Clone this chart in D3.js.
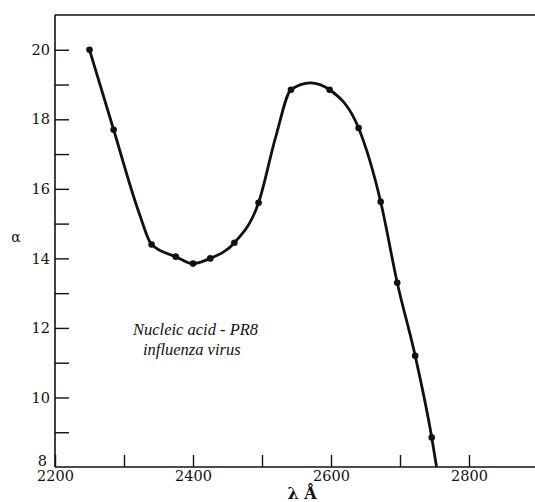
<!DOCTYPE html>
<html>
<head>
<meta charset="utf-8">
<script src="https://cdn.jsdelivr.net/npm/d3@7"></script>
<style>
  html, body { margin: 0; padding: 0; background: #fff; }
  svg { display: block; }
</style>
</head>
<body>
<svg id="chart" width="535" height="502"></svg>
<script>
// Measured points (wavelength in Å, alpha)
const waveX  = [2250, 2285, 2340, 2375, 2400, 2425, 2460, 2495, 2542, 2598, 2640, 2672, 2696, 2722, 2746];
const alphaY = [20.0, 17.7, 14.4, 14.05, 13.85, 14.0, 14.45, 15.6, 18.85, 18.85, 17.75, 15.63, 13.3, 11.2, 8.85];

// Smooth drawn curve through the points
const curveX = [2250, 2285, 2322, 2340, 2375, 2400, 2425, 2460, 2495, 2520, 2542, 2570, 2598, 2640, 2672, 2696, 2722, 2746, 2753];
const curveY = [20.0, 17.7, 15.3, 14.4, 14.05, 13.85, 14.0, 14.45, 15.6, 17.5, 18.85, 19.05, 18.85, 17.75, 15.63, 13.3, 11.2, 8.85, 8.0];

const xTicks = [2200, 2300, 2400, 2500, 2600, 2700, 2800];
const xLabels = [2200, 2400, 2600, 2800];
const yTicks = [9, 10, 11, 12, 13, 14, 15, 16, 17, 18, 19, 20];
const yLabels = [10, 12, 14, 16, 18, 20];

const noteLines = ["Nucleic acid - PR8", "influenza virus"];
const xTitle = "λ Å";
const yTitle = "α";

const svg = d3.select("#chart");
const mLeft = 55, mRight = 538, mTop = 15, mBottom = 467;

const x = d3.scaleLinear().domain([2200, 2900]).range([mLeft, mRight]);
const y = d3.scaleLinear().domain([8, 21]).range([mBottom, mTop]);

const font = "'DejaVu Serif', serif";
const noteFont = "'Liberation Serif', serif";

// Top frame line
svg.append("line").attr("x1", mLeft).attr("x2", 535).attr("y1", mTop).attr("y2", mTop)
  .attr("stroke", "#111").attr("stroke-width", 1.6);

// Y axis
const yAxis = d3.axisLeft(y).tickValues(yTicks).tickSize(-14).tickPadding(5)
  .tickFormat(d => yLabels.includes(d) ? d : "");
const gy = svg.append("g").attr("transform", `translate(${mLeft},0)`).call(yAxis);
gy.select(".domain").attr("stroke", "#111").attr("stroke-width", 1.6)
  .attr("d", `M0,${mTop}V${mBottom}`);
gy.selectAll(".tick line").attr("stroke", "#111").attr("stroke-width", 1.4);
gy.selectAll(".tick text").attr("font-family", font).attr("font-size", 14.5).attr("fill", "#111");

// X axis
const xAxis = d3.axisBottom(x).tickValues(xTicks).tickSize(-12).tickPadding(4)
  .tickFormat(d => xLabels.includes(d) ? d : "");
const gx = svg.append("g").attr("transform", `translate(0,${mBottom})`).call(xAxis);
gx.select(".domain").attr("stroke", "#111").attr("stroke-width", 1.6)
  .attr("d", `M${mLeft},0H535`);
gx.selectAll(".tick line").attr("stroke", "#111").attr("stroke-width", 1.4);
gx.selectAll(".tick text").attr("font-family", font).attr("font-size", 14.5).attr("fill", "#111");

// "8" label at the origin
svg.append("text").attr("x", x(2200) - 8).attr("y", y(8) - 1)
  .attr("text-anchor", "end").attr("font-family", font).attr("font-size", 14.5)
  .attr("fill", "#111").text("8");

// Axis titles
svg.append("text").attr("x", 302).attr("y", 499).attr("text-anchor", "middle")
  .attr("font-family", font).attr("font-size", 16).attr("font-weight", "bold")
  .attr("fill", "#111").text(xTitle);
svg.append("text").attr("x", 16).attr("y", 242).attr("text-anchor", "middle")
  .attr("font-family", font).attr("font-size", 14).attr("fill", "#111").text(yTitle);

// Clip
svg.append("clipPath").attr("id", "plotclip").append("rect")
  .attr("x", mLeft).attr("y", mTop).attr("width", 535 - mLeft).attr("height", mBottom - mTop);

// Curve
const curveData = curveX.map((d, i) => [d, curveY[i]]);
const line = d3.line().x(d => x(d[0])).y(d => y(d[1])).curve(d3.curveMonotoneX);
svg.append("path").datum(curveData).attr("clip-path", "url(#plotclip)")
  .attr("d", line).attr("fill", "none").attr("stroke", "#111").attr("stroke-width", 2.8)
  .attr("stroke-linejoin", "round");

// Points
svg.append("g").selectAll("circle").data(waveX.map((d, i) => [d, alphaY[i]])).join("circle")
  .attr("cx", d => x(d[0])).attr("cy", d => y(d[1])).attr("r", 3.3).attr("fill", "#111");

// Annotation
svg.append("text").attr("x", 133).attr("y", 335)
  .attr("font-family", noteFont).attr("font-style", "italic")
  .attr("font-size", 16.5).attr("fill", "#111").text(noteLines[0]);
svg.append("text").attr("x", 143).attr("y", 355)
  .attr("font-family", noteFont).attr("font-style", "italic")
  .attr("font-size", 16.5).attr("fill", "#111").text(noteLines[1]);
</script>
</body>
</html>
